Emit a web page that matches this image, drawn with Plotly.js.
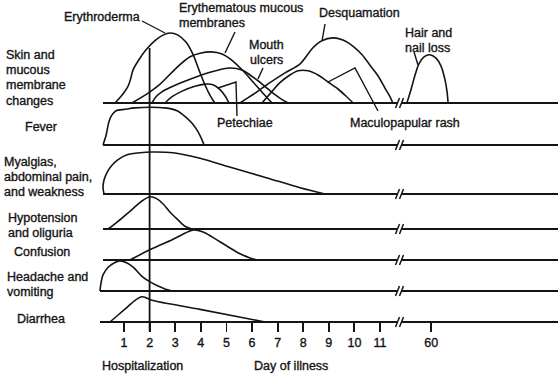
<!DOCTYPE html>
<html><head><meta charset="utf-8">
<script src="https://cdn.plot.ly/plotly-3.0.1.min.js"></script>
<style>html,body{margin:0;padding:0;background:#fff}#chart{width:558px;height:376px}
#chart svg text{stroke:#141414;stroke-width:0.35px;}</style>
</head><body><div id="chart"></div>
<script>
// ---------------- DATA (day of illness, relative intensity 0-10) ----------------
const tickDays = [1,2,3,4,5,6,7,8,9,10,11,60];
const hospitalizationDay = 2;

const rowLabelLines = [
  ["Skin and","mucous","membrane","changes"],
  ["Fever"],
  ["Myalgias,","abdominal pain,","and weakness"],
  ["Hypotension","and oliguria"],
  ["Confusion"],
  ["Headache and","vomiting"],
  ["Diarrhea"]
];

// Skin and mucous membrane changes
const erythrodermaDay   = [0.65,0.92,1.16,1.27,1.35,1.55,1.86,2.21,2.52,2.8,3.11,3.42,3.7,3.93,4.16,4.36,4.55];
const erythrodermaLevel = [0,1.1,2.4,3.6,4.7,6.0,7.6,8.9,9.7,10,9.7,8.7,6.9,4.7,2.6,1.1,0];
const mucousDay   = [1.31,1.9,2.41,3.07,3.58,3.97,4.4,4.83,5.22,5.65,6.04,6.43,6.78];
const mucousLevel = [0,1.3,2.7,5.1,6.6,7.1,7.3,7.0,6.1,4.6,3.0,1.4,0];
const ulcersDay   = [2.09,2.25,2.48,2.91,3.58,4.36,5.14,5.61,6.04,6.43,6.82,7.13,7.41];
const ulcersLevel = [0,0.9,1.6,2.4,3.4,4.4,5.0,4.7,3.7,2.6,1.4,0.6,0];
const petechiaeDay   = [2.6,2.88,3.27,3.77,4.16,4.48,4.75,4.95,5.1];
const petechiaeLevel = [0,0.9,1.7,2.4,2.7,2.6,1.9,1.0,0];
const desquamationDay   = [5.53,6.12,6.7,7.29,7.88,8.38,8.73,9.16,9.55,9.95,10.3,10.61,10.92,11.2,11.39,11.5];
const desquamationLevel = [0,1.4,2.9,4.3,5.6,7.9,8.9,9.3,9.0,8.1,6.9,5.4,3.9,2.1,0.9,0];
const rashDay   = [6.39,6.7,7.09,7.48,7.8,8.19,8.58,8.97,9.36,9.67,9.95];
const rashLevel = [0,1.3,2.9,4.0,4.6,4.6,4.0,3.0,2.0,1.0,0];
const hairDay   = [59.05,59.21,59.37,59.52,59.72,59.95,60.19,60.38,60.54,60.62,60.66];
const hairLevel = [0,1.9,4.0,5.6,6.6,6.9,6.4,5.3,3.3,1.6,0];

const feverDay   = [0.18,0.3,0.41,0.53,0.69,1.04,1.43,2.02,2.6,3.07,3.38,3.66,3.89,4.05,4.13];
const feverLevel = [0,1.4,3.3,4.3,4.9,5.1,5.3,5.4,5.3,4.9,4.1,3.1,1.9,0.7,0];
const myalgiaDay   = [0.22,0.18,0.22,0.34,0.53,0.77,1.12,1.63,2.09,2.91,3.97,5.26,6.59,7.88,8.85];
const myalgiaLevel = [0,0.9,2.0,3.1,4.1,4.9,5.6,5.9,6.0,5.9,5.1,3.7,2.3,0.9,0];
const hypotensionDay   = [0.38,0.77,1.16,1.47,1.7,2.02,2.29,2.52,2.8,3.11,3.38,3.66];
const hypotensionLevel = [0,1.1,2.3,3.3,4.0,4.6,4.3,3.6,2.4,1.3,0.4,0];
const confusionDay   = [1.23,2.09,2.88,3.42,3.73,4.09,4.44,5.06,5.53,5.92,6.2];
const confusionLevel = [0,1.6,2.9,3.9,4.3,4.0,3.3,1.9,0.9,0.3,0];
const headacheDay   = [0.06,0.1,0.18,0.38,0.61,0.84,1.12,1.39,1.7,2.02,2.33,2.6,2.91];
const headacheLevel = [0,1.1,2.3,3.4,4.0,4.3,4.0,3.3,2.1,1.3,0.7,0.3,0];
const diarrheaDay   = [0.45,0.77,1.12,1.43,1.7,1.9,2.09,3.97,6.51];
const diarrheaLevel = [0,1.0,2.1,3.1,3.6,3.4,3.1,1.8,0];

// ---------------- LAYOUT HELPERS ----------------
const W = 558, H = 376;
const PX0 = 98.4, PXD = 25.6;           // pixel of day 0, pixels per day
const UNIT = 7;                         // pixels per intensity unit
const rowBase = [103,145,194,229,260,291,322];
const BREAK_SHIFT = 47;                 // days after the axis break are drawn shifted
const pos = d => d > 30 ? d - BREAK_SHIFT : d;
const toDay = px => (px - PX0) / PXD;
const px = x => x / W, py = y => 1 - y / H;
const INK = '#141414';
const FONT = {family: 'Liberation Sans, Arial, sans-serif', size: 12.5, color: INK};

const rows = [
  [[erythrodermaDay,erythrodermaLevel],[mucousDay,mucousLevel],[ulcersDay,ulcersLevel],
   [petechiaeDay,petechiaeLevel],[desquamationDay,desquamationLevel],[rashDay,rashLevel],[hairDay,hairLevel]],
  [[feverDay,feverLevel]],
  [[myalgiaDay,myalgiaLevel]],
  [[hypotensionDay,hypotensionLevel]],
  [[confusionDay,confusionLevel]],
  [[headacheDay,headacheLevel]],
  [[diarrheaDay,diarrheaLevel]]
];

const traces = [];
const layout = {
  width: W, height: H, margin: {l:0,r:0,t:0,b:0},
  paper_bgcolor: '#fff', plot_bgcolor: 'rgba(0,0,0,0)', showlegend: false,
  xaxis: {range: [toDay(0), toDay(W)], anchor: 'free', position: py(rowBase[6]),
    tickvals: tickDays.map(pos), ticktext: tickDays.map(String),
    ticks: 'outside', ticklen: 9, tickwidth: 1.8, tickcolor: INK,
    showgrid: false, zeroline: false, showline: false,
    tickfont: FONT, fixedrange: true},
  annotations: [], shapes: []
};

const breakL = toDay(397), breakR = toDay(402);
rows.forEach((curves, i) => {
  const ya = i === 0 ? 'y' : 'y' + (i + 1);
  const key = i === 0 ? 'yaxis' : 'yaxis' + (i + 1);
  const b = rowBase[i];
  layout[key] = {visible: false, range: [-0.5, 10.5], anchor: 'x', fixedrange: true,
    domain: [py(b + 0.5 * UNIT), py(b - 10.5 * UNIT)]};
  // baseline with break
  traces.push({x: [toDay(b >= 291 ? 100 : 103), breakL, null, breakR, toDay(W + 10)], y: [0, 0, null, 0, 0],
    mode: 'lines', line: {color: INK, width: 1.9}, xaxis: 'x', yaxis: ya, hoverinfo: 'skip'});
  curves.forEach(([d, v]) => traces.push({x: d.map(pos), y: v, mode: 'lines',
    line: {color: INK, width: 1.6, shape: 'spline', smoothing: 0.8},
    xaxis: 'x', yaxis: ya, hoverinfo: 'skip'}));
  // break mark
  [395.5, 399.5].forEach(x0 => layout.shapes.push({type: 'line', xref: 'paper', yref: 'paper',
    x0: px(x0), y0: py(b + 5), x1: px(x0 + 4), y1: py(b - 5), line: {color: INK, width: 1.5}}));
  // row label
  const lines = rowLabelLines[i];
  const labelLeft = [4, 23, 2, 6, 12, 5, 15][i];
  const labelTop = [55, 127, 162, 218, 252, 277, 319][i];
  lines.forEach((t, k) => layout.annotations.push(txt(t, labelLeft, labelTop + k * 15.2)));
});

function txt(t, x, y) {
  return {text: t, xref: 'paper', yref: 'paper', x: px(x), y: py(y), xanchor: 'left', yanchor: 'middle',
    showarrow: false, font: FONT};
}
function seg(pts) {
  return {type: 'path', xref: 'paper', yref: 'paper',
    path: pts.map((p, k) => (k ? 'L' : 'M') + px(p[0]) + ',' + py(p[1])).join(' '),
    line: {color: INK, width: 1.4}};
}

// curve labels and pointers
[["Erythroderma",62,17],["Erythematous mucous",177,8],["membranes",177,23],["Mouth",247,45],["ulcers",248,60],
 ["Desquamation",317,13],["Hair and",403,33],["nail loss",403,48],["Petechiae",215,123],["Maculopapular rash",348,123],
 ["Hospitalization",100,366],["Day of illness",252,366]].forEach(a => layout.annotations.push(txt(a[0], a[1], a[2])));

[[[142,21],[165,33]], [[235,32],[225,53]], [[263,68],[258,79]], [[325,24],[322,41]], [[414,52],[418,65]],
 [[218,88],[236,82],[237,116]], [[328,82],[355,68],[378,111]]].forEach(p => layout.shapes.push(seg(p)));

// hospitalization line
layout.shapes.push({type: 'line', xref: 'x', yref: 'paper', x0: hospitalizationDay, x1: hospitalizationDay,
  y0: py(331), y1: py(48), line: {color: INK, width: 1.8}});

Plotly.newPlot('chart', traces, layout, {staticPlot: true, displayModeBar: false});
</script></body></html>
